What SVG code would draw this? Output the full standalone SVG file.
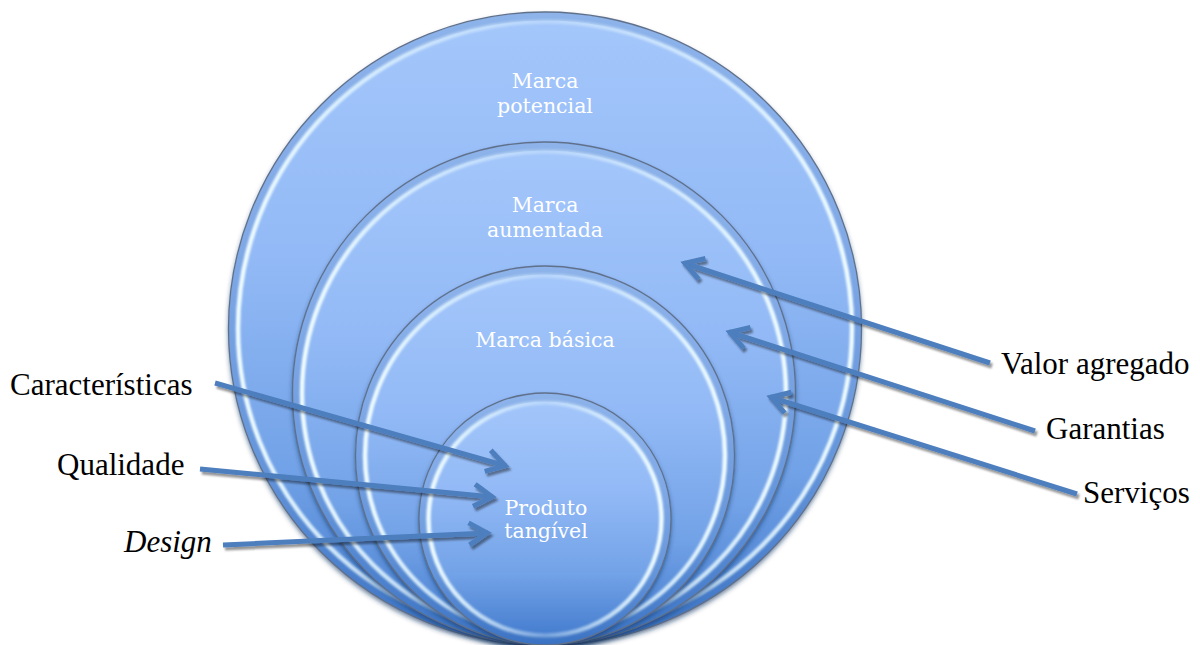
<svg xmlns="http://www.w3.org/2000/svg" width="1200" height="645" viewBox="0 0 1200 645">
  <defs>
    <!-- vertical body shading shared by every disc -->
    <linearGradient id="discFill" x1="0" y1="0" x2="0" y2="1">
      <stop offset="0" stop-color="#a4c7fb"/>
      <stop offset="0.38" stop-color="#93baf6"/>
      <stop offset="0.72" stop-color="#72a2e7"/>
      <stop offset="1" stop-color="#3f78cb"/>
    </linearGradient>
    <!-- bevel glint: bright on the flanks, faint at top and bottom -->
    <linearGradient id="glint" x1="0" y1="0" x2="1" y2="0">
      <stop offset="0" stop-color="#effcff" stop-opacity="1"/>
      <stop offset="0.18" stop-color="#e6f8ff" stop-opacity="0.8"/>
      <stop offset="0.5" stop-color="#e6f8ff" stop-opacity="0.3"/>
      <stop offset="0.82" stop-color="#e6f8ff" stop-opacity="0.8"/>
      <stop offset="1" stop-color="#effcff" stop-opacity="1"/>
    </linearGradient>
    <filter id="discShadow" x="-10%" y="-10%" width="120%" height="125%">
      <feDropShadow dx="0" dy="3" stdDeviation="2.5" flood-color="#12305c" flood-opacity="0.65"/>
    </filter>
    <filter id="soft" x="-5%" y="-5%" width="110%" height="110%">
      <feGaussianBlur stdDeviation="0.8"/>
    </filter>
    <filter id="arrowShadow" x="-10%" y="-20%" width="120%" height="140%">
      <feDropShadow dx="2" dy="3" stdDeviation="0.8" flood-color="#000" flood-opacity="0.42"/>
    </filter>
    <marker id="chevron" markerUnits="userSpaceOnUse" viewBox="-24 -14 28 28" refX="1" refY="0"
            markerWidth="28" markerHeight="28" orient="auto" overflow="visible">
      <path d="M -18 -11 L 0 0 L -18 11" fill="none" stroke="#4d7ebd" stroke-width="5"
            stroke-linecap="butt" stroke-linejoin="miter"/>
    </marker>
    <style>
      .disc { fill: url(#discFill); filter: url(#discShadow); }
      .rim { fill: none; stroke: #5f708a; stroke-width: 1.3; }
      .band { fill: none; stroke: #285aa3; stroke-opacity: 0.18; stroke-width: 8; }
      .glint { fill: none; stroke: url(#glint); stroke-width: 4.5; filter: url(#soft); }
      .inner { font-family: "DejaVu Serif", "Liberation Serif", serif; font-size: 20.5px; fill: #ffffff; text-anchor: middle; }
      .label { font-family: "Liberation Serif", "Times New Roman", serif; font-size: 31px; fill: #000000; }
      .arrow { fill: none; stroke: #4d7ebd; stroke-width: 5; marker-end: url(#chevron); }
    </style>
  </defs>

  <rect width="1200" height="645" fill="#ffffff"/>

  <!-- nested discs, outermost first, all resting on the bottom edge -->
  <g id="marca-potencial">
    <circle class="disc" cx="545" cy="328.5" r="316.5"/>
    <circle class="band" cx="545" cy="328.5" r="312"/>
    <circle class="glint" cx="545" cy="328.5" r="307"/>
    <circle class="rim" cx="545" cy="328.5" r="316.5"/>
    <text class="inner" x="545" y="88">Marca</text>
    <text class="inner" x="545" y="113">potencial</text>
  </g>

  <g id="marca-aumentada">
    <circle class="disc" cx="544" cy="393.5" r="251.5"/>
    <circle class="band" cx="544" cy="393.5" r="247"/>
    <circle class="glint" cx="544" cy="393.5" r="242"/>
    <circle class="rim" cx="544" cy="393.5" r="251.5"/>
    <text class="inner" x="545" y="212">Marca</text>
    <text class="inner" x="545" y="237">aumentada</text>
  </g>

  <g id="marca-basica">
    <circle class="disc" cx="545" cy="455.5" r="189.5"/>
    <circle class="band" cx="545" cy="455.5" r="185"/>
    <circle class="glint" cx="545" cy="455.5" r="180"/>
    <circle class="rim" cx="545" cy="455.5" r="189.5"/>
    <text class="inner" x="545" y="347">Marca básica</text>
  </g>

  <g id="produto-tangivel">
    <circle class="disc" cx="545" cy="519" r="126"/>
    <circle class="band" cx="545" cy="519" r="121.5"/>
    <circle class="glint" cx="545" cy="519" r="116.5"/>
    <circle class="rim" cx="545" cy="519" r="126"/>
    <text class="inner" x="546" y="515">Produto</text>
    <text class="inner" x="546" y="538">tangível</text>
  </g>

  <!-- side labels -->
  <g id="caracteristicas"><text class="label" x="10" y="395">Características</text></g>
  <g id="qualidade"><text class="label" x="57" y="475">Qualidade</text></g>
  <g id="design"><text class="label" x="124" y="552" font-style="italic">Design</text></g>
  <g id="valor-agregado"><text class="label" x="1001" y="374">Valor agregado</text></g>
  <g id="garantias"><text class="label" x="1046" y="439">Garantias</text></g>
  <g id="servicos"><text class="label" x="1083" y="503">Serviços</text></g>

  <!-- connectors -->
  <g id="connectors" filter="url(#arrowShadow)">
    <path class="arrow" d="M 215 383 L 506 466"/>
    <path class="arrow" d="M 200 469 L 493 497"/>
    <path class="arrow" d="M 223 545 L 488 533"/>
    <path class="arrow" d="M 990 363 L 684 263"/>
    <path class="arrow" d="M 1035 431 L 729 332"/>
    <path class="arrow" d="M 1077 494 L 770 397"/>
  </g>
</svg>
